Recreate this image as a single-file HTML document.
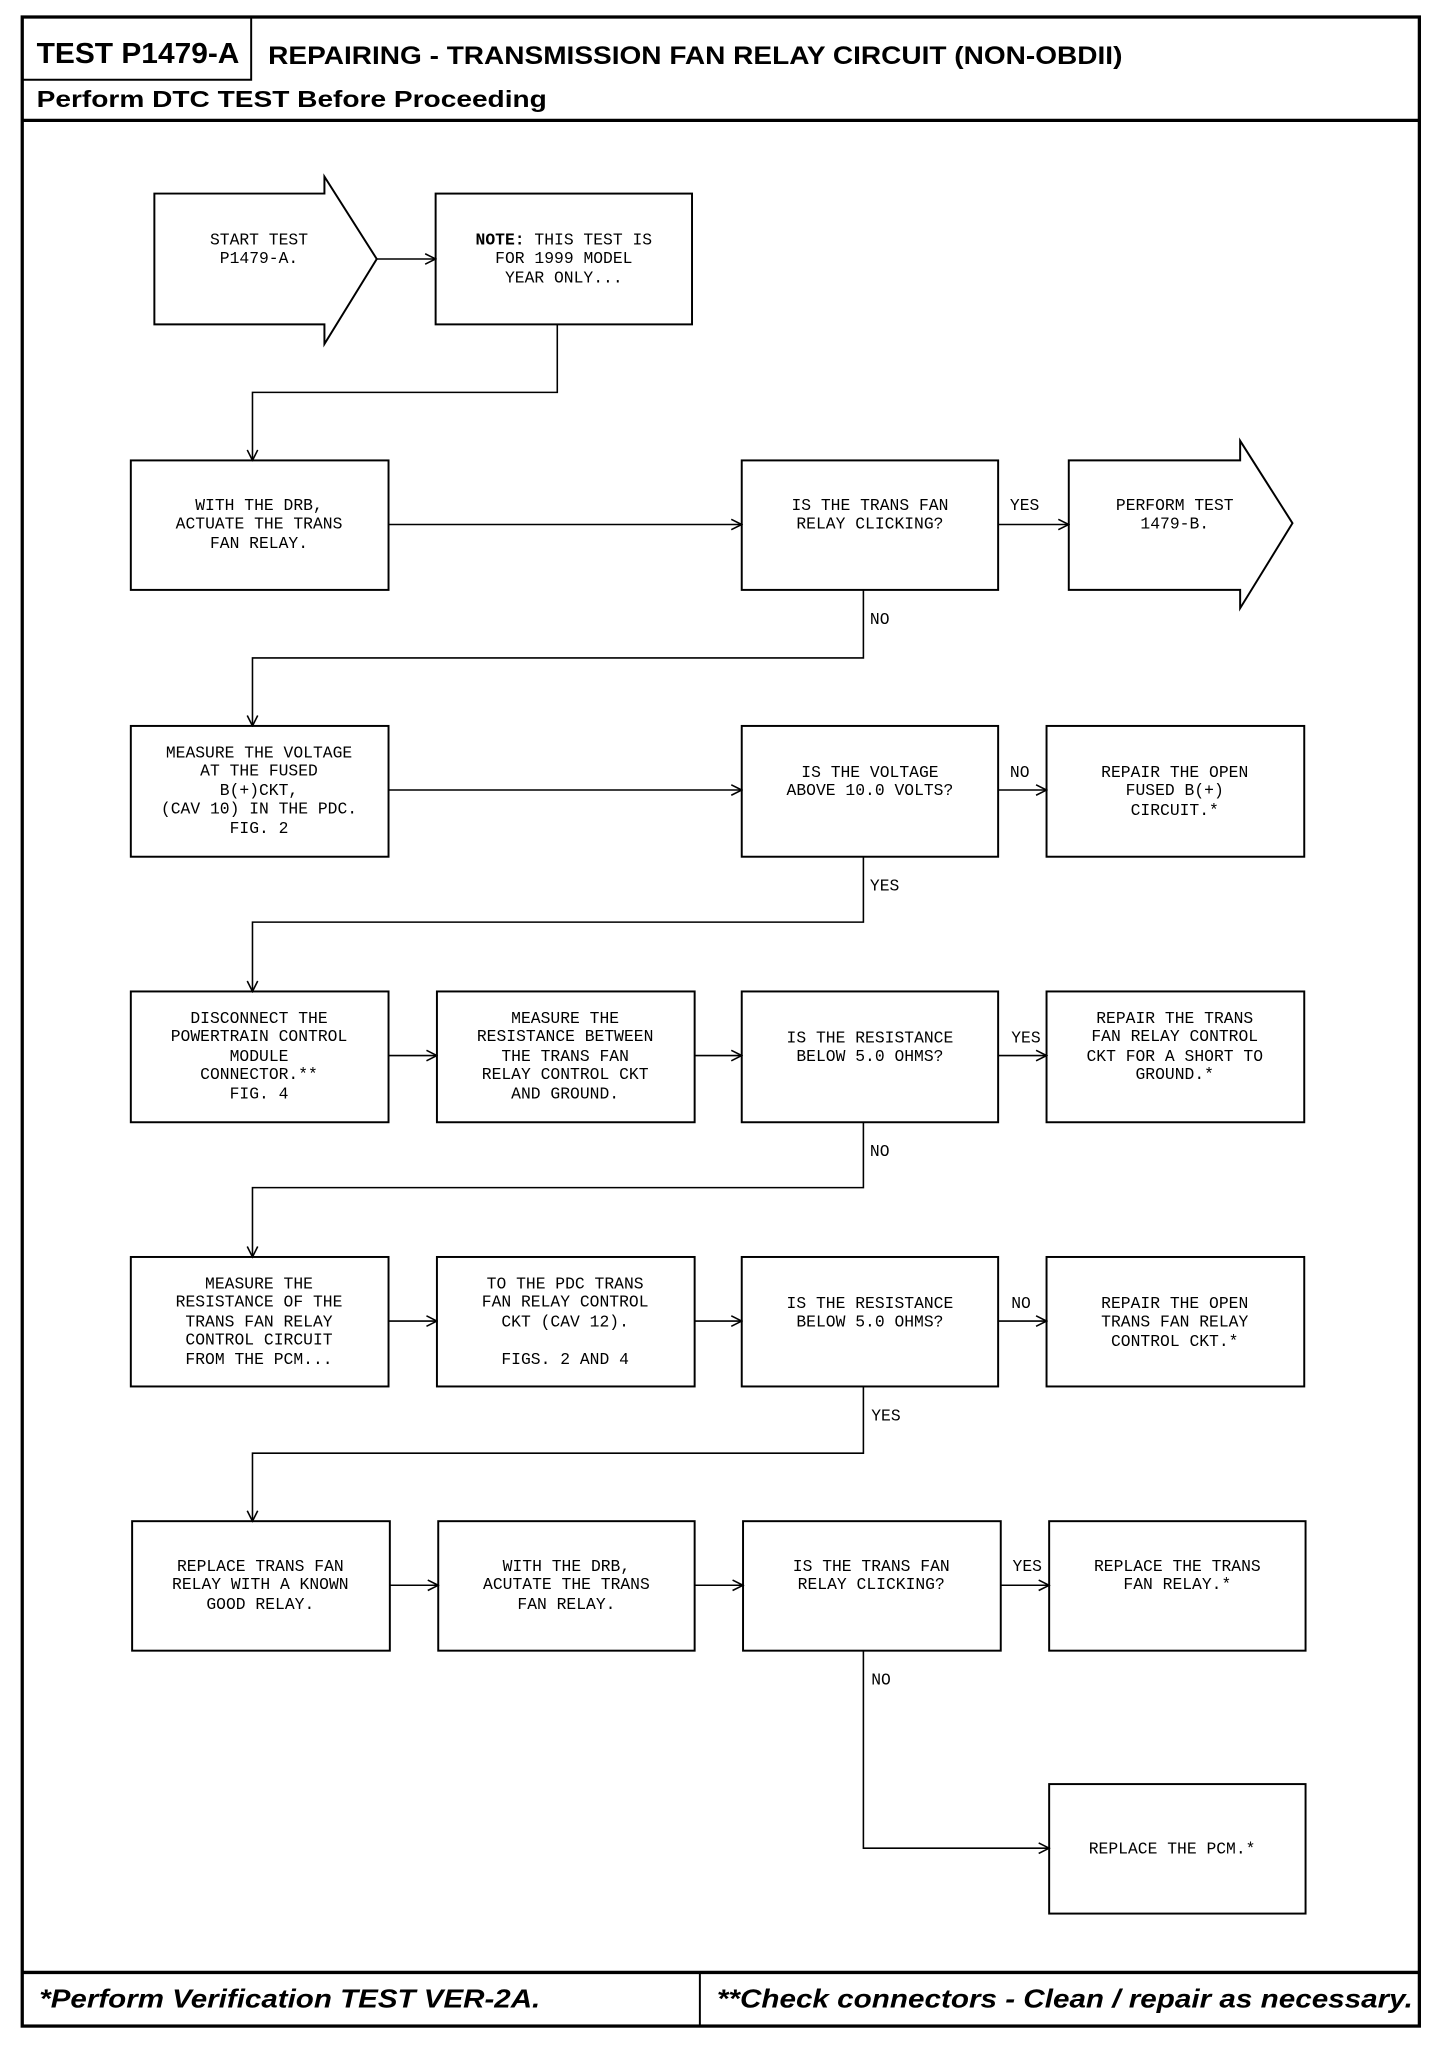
<!DOCTYPE html>
<html><head><meta charset="utf-8"><style>
html,body{margin:0;padding:0;background:#fff}
svg{display:block}
.b{fill:none;stroke:#000;stroke-width:1.5}
.l{fill:none;stroke:#000;stroke-width:1.2}
.t{font-family:"Liberation Mono",monospace;font-size:12.5px;fill:#000;text-anchor:middle}
.lab{font-family:"Liberation Mono",monospace;font-size:12.5px;fill:#000}
.h{font-family:"Liberation Sans",sans-serif;font-weight:bold;fill:#000}
.f{font-family:"Liberation Sans",sans-serif;font-weight:bold;font-style:italic;fill:#000}
</style></head><body>
<svg width="1456" height="2050" viewBox="0 0 1113 1567.3" preserveAspectRatio="none" xmlns="http://www.w3.org/2000/svg">
<defs><marker id="a" markerWidth="10" markerHeight="10" refX="9" refY="5" orient="auto" markerUnits="userSpaceOnUse"><path d="M1,1 L9,5 L1,9" fill="none" stroke="#000" stroke-width="1.2"/></marker></defs>
<rect x="17" y="13" width="1068" height="1536" fill="none" stroke="#000" stroke-width="2.5"/>
<line x1="17" y1="92" x2="1085" y2="92" stroke="#000" stroke-width="2.5"/>
<polyline points="17,61 192,61 192,13" fill="none" stroke="#000" stroke-width="1.5"/>
<text class="h" x="28" y="48" font-size="22" textLength="155" lengthAdjust="spacingAndGlyphs">TEST P1479-A</text>
<text class="h" x="205" y="49" font-size="19" textLength="653" lengthAdjust="spacingAndGlyphs">REPAIRING - TRANSMISSION FAN RELAY CIRCUIT (NON-OBDII)</text>
<text class="h" x="28" y="82" font-size="18" textLength="390" lengthAdjust="spacingAndGlyphs">Perform DTC TEST Before Proceeding</text>
<line x1="17" y1="1508" x2="1085" y2="1508" stroke="#000" stroke-width="2.5"/>
<line x1="535" y1="1508" x2="535" y2="1549" stroke="#000" stroke-width="1.5"/>
<text class="f" x="30" y="1535" font-size="20" textLength="383" lengthAdjust="spacingAndGlyphs">*Perform Verification TEST VER-2A.</text>
<text class="f" x="548" y="1535" font-size="20" textLength="532" lengthAdjust="spacingAndGlyphs">**Check connectors - Clean / repair as necessary.</text>

<polygon class="b" points="118,148 248,148 248,135 288,198 248,263 248,248 118,248"/>
<text class="t" x="198" y="187">START TEST</text><text class="t" x="198" y="201">P1479-A.</text>
<line class="l" x1="288" y1="198" x2="333" y2="198" marker-end="url(#a)"/>
<rect class="b" x="333" y="148" width="196" height="100"/>
<text class="t" x="431" y="187"><tspan font-weight="bold">NOTE:</tspan> THIS TEST IS</text>
<text class="t" x="431" y="201">FOR 1999 MODEL</text><text class="t" x="431" y="216">YEAR ONLY...</text>
<polyline class="l" points="426,248 426,300 193,300 193,352" marker-end="url(#a)"/>

<rect class="b" x="100" y="352" width="197" height="99"/>
<text class="t" x="198" y="390">WITH THE DRB,</text><text class="t" x="198" y="404">ACTUATE THE TRANS</text><text class="t" x="198" y="419">FAN RELAY.</text>
<line class="l" x1="297" y1="401" x2="567" y2="401" marker-end="url(#a)"/>
<rect class="b" x="567" y="352" width="196" height="99"/>
<text class="t" x="665" y="390">IS THE TRANS FAN</text><text class="t" x="665" y="404">RELAY CLICKING?</text>
<line class="l" x1="763" y1="401" x2="817" y2="401" marker-end="url(#a)"/>
<text class="lab" x="772" y="390">YES</text>
<polygon class="b" points="817,352 948,352 948,337 988,400 948,465 948,451 817,451"/>
<text class="t" x="898" y="390">PERFORM TEST</text><text class="t" x="898" y="404">1479-B.</text>
<polyline class="l" points="660,451 660,503 193,503 193,555" marker-end="url(#a)"/>
<text class="lab" x="665" y="477">NO</text>

<rect class="b" x="100" y="555" width="197" height="100"/>
<text class="t" x="198" y="579">MEASURE THE VOLTAGE</text><text class="t" x="198" y="593">AT THE FUSED</text><text class="t" x="198" y="608">B(+)CKT,</text><text class="t" x="198" y="622">(CAV 10) IN THE PDC.</text><text class="t" x="198" y="637">FIG. 2</text>
<line class="l" x1="297" y1="604" x2="567" y2="604" marker-end="url(#a)"/>
<rect class="b" x="567" y="555" width="196" height="100"/>
<text class="t" x="665" y="594">IS THE VOLTAGE</text><text class="t" x="665" y="608">ABOVE 10.0 VOLTS?</text>
<line class="l" x1="763" y1="604" x2="800" y2="604" marker-end="url(#a)"/>
<text class="lab" x="772" y="594">NO</text>
<rect class="b" x="800" y="555" width="197" height="100"/>
<text class="t" x="898" y="594">REPAIR THE OPEN</text><text class="t" x="898" y="608">FUSED B(+)</text><text class="t" x="898" y="623">CIRCUIT.*</text>
<polyline class="l" points="660,655 660,705 193,705 193,758" marker-end="url(#a)"/>
<text class="lab" x="665" y="681">YES</text>

<rect class="b" x="100" y="758" width="197" height="100"/>
<text class="t" x="198" y="782">DISCONNECT THE</text><text class="t" x="198" y="796">POWERTRAIN CONTROL</text><text class="t" x="198" y="811">MODULE</text><text class="t" x="198" y="825">CONNECTOR.**</text><text class="t" x="198" y="840">FIG. 4</text>
<line class="l" x1="297" y1="807" x2="334" y2="807" marker-end="url(#a)"/>
<rect class="b" x="334" y="758" width="197" height="100"/>
<text class="t" x="432" y="782">MEASURE THE</text><text class="t" x="432" y="796">RESISTANCE BETWEEN</text><text class="t" x="432" y="811">THE TRANS FAN</text><text class="t" x="432" y="825">RELAY CONTROL CKT</text><text class="t" x="432" y="840">AND GROUND.</text>
<line class="l" x1="531" y1="807" x2="567" y2="807" marker-end="url(#a)"/>
<rect class="b" x="567" y="758" width="196" height="100"/>
<text class="t" x="665" y="797">IS THE RESISTANCE</text><text class="t" x="665" y="811">BELOW 5.0 OHMS?</text>
<line class="l" x1="763" y1="807" x2="800" y2="807" marker-end="url(#a)"/>
<text class="lab" x="773" y="797">YES</text>
<rect class="b" x="800" y="758" width="197" height="100"/>
<text class="t" x="898" y="782">REPAIR THE TRANS</text><text class="t" x="898" y="796">FAN RELAY CONTROL</text><text class="t" x="898" y="811">CKT FOR A SHORT TO</text><text class="t" x="898" y="825">GROUND.*</text>
<polyline class="l" points="660,858 660,908 193,908 193,961" marker-end="url(#a)"/>
<text class="lab" x="665" y="884">NO</text>

<rect class="b" x="100" y="961" width="197" height="99"/>
<text class="t" x="198" y="985">MEASURE THE</text><text class="t" x="198" y="999">RESISTANCE OF THE</text><text class="t" x="198" y="1014">TRANS FAN RELAY</text><text class="t" x="198" y="1028">CONTROL CIRCUIT</text><text class="t" x="198" y="1043">FROM THE PCM...</text>
<line class="l" x1="297" y1="1010" x2="334" y2="1010" marker-end="url(#a)"/>
<rect class="b" x="334" y="961" width="197" height="99"/>
<text class="t" x="432" y="985">TO THE PDC TRANS</text><text class="t" x="432" y="999">FAN RELAY CONTROL</text><text class="t" x="432" y="1014">CKT (CAV 12).</text><text class="t" x="432" y="1043">FIGS. 2 AND 4</text>
<line class="l" x1="531" y1="1010" x2="567" y2="1010" marker-end="url(#a)"/>
<rect class="b" x="567" y="961" width="196" height="99"/>
<text class="t" x="665" y="1000">IS THE RESISTANCE</text><text class="t" x="665" y="1014">BELOW 5.0 OHMS?</text>
<line class="l" x1="763" y1="1010" x2="800" y2="1010" marker-end="url(#a)"/>
<text class="lab" x="773" y="1000">NO</text>
<rect class="b" x="800" y="961" width="197" height="99"/>
<text class="t" x="898" y="1000">REPAIR THE OPEN</text><text class="t" x="898" y="1014">TRANS FAN RELAY</text><text class="t" x="898" y="1029">CONTROL CKT.*</text>
<polyline class="l" points="660,1060 660,1111 193,1111 193,1163" marker-end="url(#a)"/>
<text class="lab" x="666" y="1086">YES</text>

<rect class="b" x="101" y="1163" width="197" height="99"/>
<text class="t" x="199" y="1201">REPLACE TRANS FAN</text><text class="t" x="199" y="1215">RELAY WITH A KNOWN</text><text class="t" x="199" y="1230">GOOD RELAY.</text>
<line class="l" x1="298" y1="1212" x2="335" y2="1212" marker-end="url(#a)"/>
<rect class="b" x="335" y="1163" width="196" height="99"/>
<text class="t" x="433" y="1201">WITH THE DRB,</text><text class="t" x="433" y="1215">ACUTATE THE TRANS</text><text class="t" x="433" y="1230">FAN RELAY.</text>
<line class="l" x1="531" y1="1212" x2="568" y2="1212" marker-end="url(#a)"/>
<rect class="b" x="568" y="1163" width="197" height="99"/>
<text class="t" x="666" y="1201">IS THE TRANS FAN</text><text class="t" x="666" y="1215">RELAY CLICKING?</text>
<line class="l" x1="765" y1="1212" x2="802" y2="1212" marker-end="url(#a)"/>
<text class="lab" x="774" y="1201">YES</text>
<rect class="b" x="802" y="1163" width="196" height="99"/>
<text class="t" x="900" y="1201">REPLACE THE TRANS</text><text class="t" x="900" y="1215">FAN RELAY.*</text>
<polyline class="l" points="660,1262 660,1413 802,1413" marker-end="url(#a)"/>
<text class="lab" x="666" y="1288">NO</text>
<rect class="b" x="802" y="1364" width="196" height="99"/>
<text class="t" x="896" y="1417">REPLACE THE PCM.*</text>
</svg>
</body></html>
